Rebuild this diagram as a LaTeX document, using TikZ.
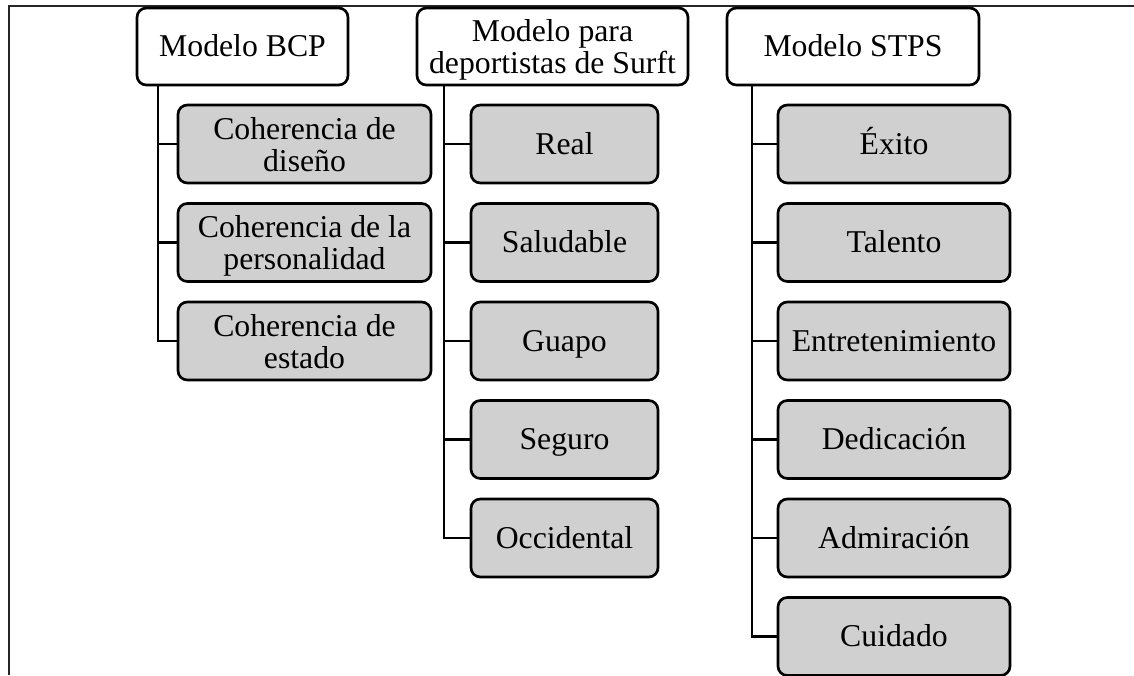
\documentclass[tikz,border=0pt]{standalone}
\usepackage{fontspec}
\setmainfont{Liberation Serif}
\definecolor{boxgray}{RGB}{208,208,208}

\begin{document}
\begin{tikzpicture}[x=0.75pt,y=-0.75pt,
    every node/.style={font=\fontsize{23.8}{24}\selectfont},
    head/.style={draw,line width=2pt,rounded corners=7pt,fill=white,align=center,inner sep=0pt,text depth=0pt,minimum height=57.75pt},
    item/.style={draw,line width=2pt,rounded corners=7pt,fill=boxgray,align=center,inner sep=0pt,text depth=0pt,minimum height=58.5pt},
    one/.style={text height=15pt},
    link/.style={line width=2pt}]
    \useasboundingbox (0,0) rectangle (1134,675);
    \draw[line width=1.6pt,black!85] (1134,6) -- (9,6) -- (9,675);

    \node[head,one,minimum width=158.25pt] (bcp) at (242.5,46.5) {Modelo BCP};
    \node[head,minimum width=203.25pt] (surf) at (552.5,46.5) {Modelo para\\deportistas de Surft};
    \node[head,one,minimum width=189pt] (stps) at (853,46.5) {Modelo STPS};

    \node[item,minimum width=189.75pt] (b1) at (304.5,144) {Coherencia de\\dise\~no};
    \node[item,minimum width=189.75pt] (b2) at (304.5,242.5) {Coherencia de la\\personalidad};
    \node[item,minimum width=189.75pt] (b3) at (304.5,341) {Coherencia de\\estado};

    \node[item,one,minimum width=140.25pt] (s1) at (564.5,144) {Real};
    \node[item,one,minimum width=140.25pt] (s2) at (564.5,242.5) {Saludable};
    \node[item,one,minimum width=140.25pt] (s3) at (564.5,341) {Guapo};
    \node[item,one,minimum width=140.25pt] (s4) at (564.5,439.5) {Seguro};
    \node[item,one,minimum width=140.25pt] (s5) at (564.5,538) {Occidental};

    \node[item,one,minimum width=174pt] (t1) at (894,144) {\'Exito};
    \node[item,one,minimum width=174pt] (t2) at (894,242.5) {Talento};
    \node[item,one,minimum width=174pt] (t3) at (894,341) {Entretenimiento};
    \node[item,one,minimum width=174pt] (t4) at (894,439.5) {Dedicaci\'on};
    \node[item,one,minimum width=174pt] (t5) at (894,538) {Admiraci\'on};
    \node[item,one,minimum width=174pt] (t6) at (894,636.5) {Cuidado};

    \coordinate (bcpt) at (158,85);
    \coordinate (surft) at (444,85);
    \coordinate (stpst) at (752,85);

    \draw[link] (bcpt) |- (b3.west);
    \draw[link] (bcpt |- b1.west) -- (b1.west);
    \draw[link] (bcpt |- b2.west) -- (b2.west);

    \draw[link] (surft) |- (s5.west);
    \draw[link] (surft |- s1.west) -- (s1.west);
    \draw[link] (surft |- s2.west) -- (s2.west);
    \draw[link] (surft |- s3.west) -- (s3.west);
    \draw[link] (surft |- s4.west) -- (s4.west);

    \draw[link] (stpst) |- (t6.west);
    \draw[link] (stpst |- t1.west) -- (t1.west);
    \draw[link] (stpst |- t2.west) -- (t2.west);
    \draw[link] (stpst |- t3.west) -- (t3.west);
    \draw[link] (stpst |- t4.west) -- (t4.west);
    \draw[link] (stpst |- t5.west) -- (t5.west);
\end{tikzpicture}
\end{document}
